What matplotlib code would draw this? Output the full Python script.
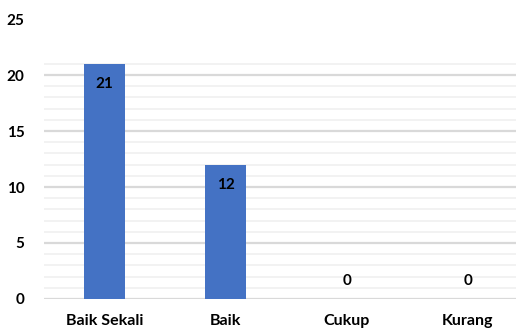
import matplotlib.pyplot as plt

categories = ['Baik Sekali', 'Baik', 'Cukup', 'Kurang']
counts = [21, 12, 0, 0]
y_ticks = [0, 5, 10, 15, 20, 25]

plt.rcParams['font.family'] = ['Lato', 'DejaVu Sans']

fig = plt.figure(figsize=(5.16, 3.29), dpi=100)
ax = fig.add_axes([0.0853, 0.0912, 0.9147, 0.851])

x = list(range(len(categories)))

# gridlines stop at the top of the data (21), majors every 5
for v in range(0, 22):
    major = v % 5 == 0
    ax.axhline(v, color='#d9d9d9' if major else '#f0f0f0', lw=1.6 if major else 1.2, zorder=0)

bars = ax.bar(x, counts, width=0.34, color='#4472C4', zorder=2)

for xi, c in zip(x, counts):
    if c > 0:
        ax.text(xi, c - 1.8, str(c), ha='center', va='center', fontsize=11, fontweight='bold', color='black', zorder=3)
    else:
        ax.text(xi, c + 1.6, str(c), ha='center', va='center', fontsize=11, fontweight='bold', color='black', zorder=3)

ax.set_xlim(-0.5, 3.40)
ax.set_ylim(0, 25)
ax.set_yticks(y_ticks)
ax.set_yticklabels([str(t) for t in y_ticks], fontsize=11, fontweight='bold')
ax.set_xticks(x)
ax.set_xticklabels(categories, fontsize=11.5, fontweight='bold')
ax.tick_params(axis='both', length=0)
ax.tick_params(axis='y', pad=14)
ax.tick_params(axis='x', pad=11)
for s in ax.spines.values():
    s.set_visible(False)

fig.savefig('out.png', dpi=100)
